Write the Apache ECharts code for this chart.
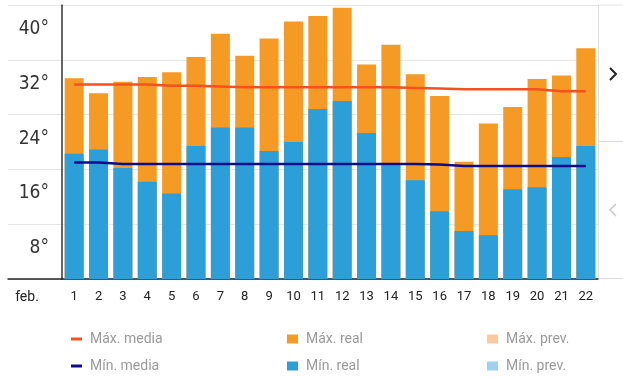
<!DOCTYPE html>
<html>
<head>
<meta charset="utf-8">
<script src="https://cdn.jsdelivr.net/npm/echarts@6/dist/echarts.min.js"></script>
<style>
html, body { margin: 0; padding: 0; background: #fff; }
#chart { width: 623px; height: 379px; }
</style>
</head>
<body>
<div id="chart"></div>
<script>
// datos de febrero
var days = ['1','2','3','4','5','6','7','8','9','10','11','12','13','14','15','16','17','18','19','20','21','22'];
var maxReal = [29.3, 27.1, 28.8, 29.5, 30.2, 32.4, 35.8, 32.6, 35.1, 37.6, 38.4, 39.6, 31.3, 34.2, 29.9, 26.7, 17.1, 22.7, 25.1, 29.2, 29.7, 33.7];
var minReal = [18.3, 18.9, 16.2, 14.2, 12.5, 19.4, 22.1, 22.1, 18.7, 20.0, 24.8, 26.0, 21.3, 16.6, 14.4, 9.9, 7.0, 6.4, 13.1, 13.4, 17.8, 19.4];
var maxMedia = [28.4, 28.4, 28.4, 28.4, 28.2, 28.2, 28.1, 28.0, 28.0, 28.0, 28.0, 28.0, 28.0, 28.0, 27.9, 27.8, 27.7, 27.7, 27.7, 27.7, 27.4, 27.4];
var minMedia = [17.0, 17.0, 16.8, 16.8, 16.8, 16.8, 16.8, 16.8, 16.8, 16.8, 16.8, 16.8, 16.8, 16.8, 16.8, 16.7, 16.5, 16.5, 16.5, 16.5, 16.5, 16.5];
var maxPrev = [];
var minPrev = [];
var yTicks = [0, 8, 16, 24, 32, 40];
var monthLabel = ['feb.'];

var chart = echarts.init(document.getElementById('chart'));

var gridColor = '#e6e6e6';
var yMin = yTicks[0], yMax = yTicks[yTicks.length - 1], yStep = yTicks[1] - yTicks[0];

function legendCol(left, iconH, names) {
    return {
        orient: 'vertical',
        left: left,
        top: 327,
        icon: 'rect',
        itemWidth: 11,
        itemHeight: iconH,
        itemGap: 13,
        selectedMode: false,
        textStyle: { color: '#9a9a9a', fontFamily: 'Roboto', fontSize: 14, padding: [0, 0, 0, 3] },
        data: names
    };
}

chart.setOption({
    animation: false,
    backgroundColor: '#fff',
    grid: [
        { left: 8, top: 5, width: 54, height: 274 },
        { left: 62, top: 5, right: 25, height: 274 }
    ],
    xAxis: [
        {
            gridIndex: 0,
            type: 'category',
            data: monthLabel,
            axisTick: { show: false },
            axisLine: { lineStyle: { color: '#222', width: 1.5 } },
            axisLabel: {
                color: '#222',
                fontFamily: 'Roboto',
                fontSize: 14,
                margin: 11,
                padding: [0, 16, 0, 0]
            }
        },
        {
            gridIndex: 1,
            type: 'category',
            data: days,
            axisTick: { show: false },
            axisLine: { lineStyle: { color: '#222', width: 1.5 } },
            axisLabel: {
                interval: 0,
                color: '#222',
                fontFamily: 'Roboto',
                fontSize: 13,
                margin: 11
            }
        }
    ],
    yAxis: [
        {
            gridIndex: 0,
            type: 'value',
            position: 'right',
            min: yMin,
            max: yMax,
            interval: yStep,
            axisLine: { show: false },
            axisTick: { show: false },
            splitLine: { lineStyle: { color: gridColor } },
            axisLabel: {
                inside: true,
                margin: 13,
                color: '#333',
                fontFamily: 'Liberation Sans Narrow, DejaVu Sans Condensed, sans-serif',
                fontSize: 19,
                verticalAlign: 'top',
                lineHeight: 16,
                formatter: function (v) {
                    return v === 0 ? '' : '\n' + v + '°';
                }
            }
        },
        {
            gridIndex: 1,
            type: 'value',
            min: yMin,
            max: yMax,
            interval: yStep,
            axisLine: { show: true, lineStyle: { color: '#333', width: 1.5 } },
            axisTick: { show: false },
            axisLabel: { show: false },
            splitLine: { lineStyle: { color: gridColor } }
        }
    ],
    legend: [
        legendCol(66, 3, ['Máx. media', 'Mín. media']),
        legendCol(282, 9, ['Máx. real', 'Mín. real']),
        legendCol(482, 9, ['Máx. prev.', 'Mín. prev.'])
    ],
    graphic: [
        { type: 'line', shape: { x1: 598, y1: 5, x2: 623, y2: 5 }, style: { stroke: gridColor, lineWidth: 1 } },
        { type: 'line', shape: { x1: 598.5, y1: 5, x2: 598.5, y2: 279 }, style: { stroke: '#ddd', lineWidth: 1 } },
        { type: 'line', shape: { x1: 598, y1: 141.5, x2: 623, y2: 141.5 }, style: { stroke: '#ddd', lineWidth: 1 } },
        { type: 'line', shape: { x1: 598, y1: 278.5, x2: 623, y2: 278.5 }, style: { stroke: '#ddd', lineWidth: 1 } },
        { type: 'polyline', shape: { points: [[610, 68], [616, 74], [610, 80]] }, style: { stroke: '#222', lineWidth: 2, fill: null } },
        { type: 'polyline', shape: { points: [[616, 204], [610, 210], [616, 216]] }, style: { stroke: '#c8c8c8', lineWidth: 1.5, fill: null } }
    ],
    series: [
        {
            name: 'Máx. real',
            type: 'bar',
            xAxisIndex: 1,
            yAxisIndex: 1,
            barWidth: 19,
            barGap: '-100%',
            itemStyle: { color: '#f59a25' },
            data: maxReal
        },
        {
            name: 'Mín. real',
            type: 'bar',
            xAxisIndex: 1,
            yAxisIndex: 1,
            barWidth: 19,
            barGap: '-100%',
            itemStyle: { color: '#2c9fd8' },
            data: minReal
        },
        {
            name: 'Máx. prev.',
            type: 'bar',
            xAxisIndex: 1,
            yAxisIndex: 1,
            barWidth: 19,
            barGap: '-100%',
            itemStyle: { color: '#ffc99c' },
            data: maxPrev
        },
        {
            name: 'Mín. prev.',
            type: 'bar',
            xAxisIndex: 1,
            yAxisIndex: 1,
            barWidth: 19,
            barGap: '-100%',
            itemStyle: { color: '#9fd1ef' },
            data: minPrev
        },
        {
            name: 'Máx. media',
            type: 'line',
            xAxisIndex: 1,
            yAxisIndex: 1,
            showSymbol: false,
            itemStyle: { color: '#f4511e' },
            lineStyle: { color: '#f4511e', width: 2.5 },
            data: maxMedia
        },
        {
            name: 'Mín. media',
            type: 'line',
            xAxisIndex: 1,
            yAxisIndex: 1,
            showSymbol: false,
            itemStyle: { color: '#0d0d8c' },
            lineStyle: { color: '#0d0d8c', width: 2.5 },
            data: minMedia
        }
    ]
});
</script>
</body>
</html>
